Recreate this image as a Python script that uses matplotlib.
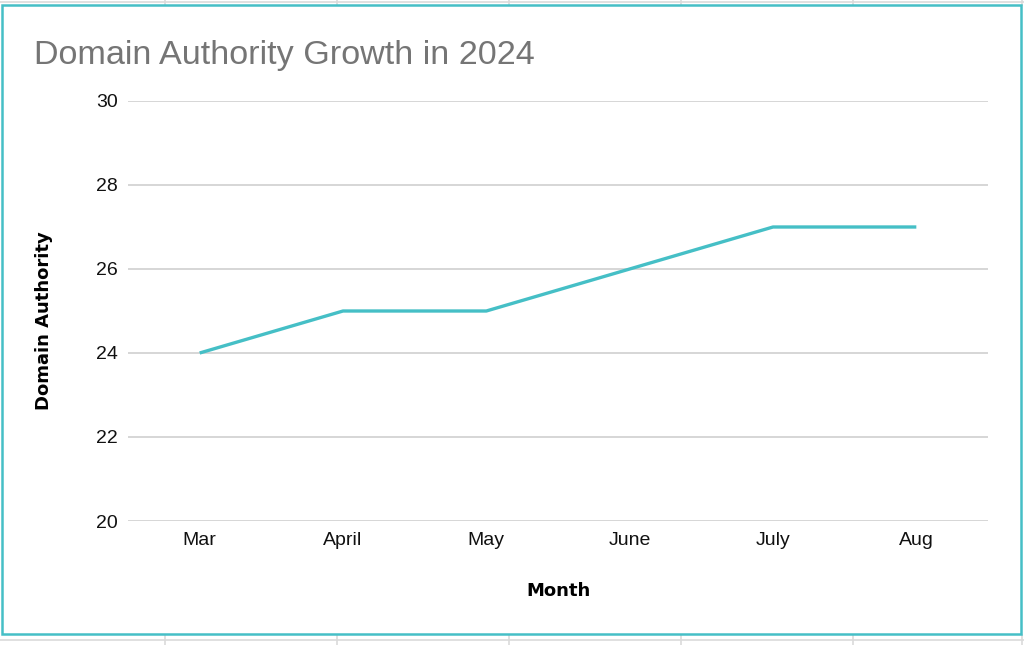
import matplotlib.pyplot as plt
from matplotlib.lines import Line2D
from matplotlib.patches import Rectangle

plt.rcParams['font.family'] = ['Liberation Sans', 'DejaVu Sans']

months = ['Mar', 'April', 'May', 'June', 'July', 'Aug']
domain_authority = [24, 25, 25, 26, 27, 27]
y_ticks = [20, 22, 24, 26, 28, 30]

W, H = 1024, 645
LINE_COLOR = '#45bfc6'

fig = plt.figure(figsize=(W / 100, H / 100), dpi=100)
fig.patch.set_facecolor('white')

# spreadsheet grid showing around the chart
sheet = '#dadada'
for yy in [2, 640]:
    fig.add_artist(Line2D([0, 1], [1 - yy / H, 1 - yy / H], color=sheet, lw=1.2,
                          transform=fig.transFigure, zorder=0))
for xx in [165, 337, 509, 681, 853, 1022]:
    fig.add_artist(Line2D([xx / W, xx / W], [1, 1 - 5 / H], color=sheet, lw=1.2,
                          transform=fig.transFigure, zorder=0))
    fig.add_artist(Line2D([xx / W, xx / W], [1 - 635 / H, 0], color=sheet, lw=1.2,
                          transform=fig.transFigure, zorder=0))

# chart border
fig.add_artist(Rectangle((1.5 / W, 1 - 634 / H), 1019 / W, 629.5 / H,
                         transform=fig.transFigure, fill=True, fc='white',
                         ec=LINE_COLOR, lw=1.8, zorder=1))

ax = fig.add_axes([128 / W, 1 - 521 / H, 860 / W, 420 / H])
ax.set_zorder(2)
ax.patch.set_visible(False)

x = list(range(len(months)))
ax.plot(x, domain_authority, color=LINE_COLOR, lw=2.4, solid_capstyle='butt',
        solid_joinstyle='round', zorder=3)

ax.set_xlim(-0.5, len(months) - 0.5)
ax.set_ylim(20, 30)
ax.set_yticks(y_ticks)
ax.set_xticks(x)
ax.set_xticklabels(months)
ax.grid(axis='y', color='#cccccc', lw=1.1)
ax.set_axisbelow(True)
for s in ax.spines.values():
    s.set_visible(False)
ax.tick_params(length=0, labelsize=14, colors='#111111')
ax.tick_params(axis='y', pad=7.5)
ax.tick_params(axis='x', pad=8)

ax.set_xlabel('Month', fontsize=13, fontweight='bold', family=['DejaVu Sans'],
              va='center')
ax.xaxis.set_label_coords(0.501, (521 - 591) / 420)
ax.set_ylabel('Domain Authority', fontsize=13, fontweight='bold',
              family=['DejaVu Sans'], va='center', ha='center')
ax.yaxis.set_label_coords((44 - 128) / 860, (521 - 321) / 420)

# title: fit width to the reference (~501 px)
title = fig.text(34 / W, 1 - 64 / H, 'Domain Authority Growth in 2024',
                 fontsize=24, color='#757575', va='baseline', ha='left',
                 zorder=3)
r = fig.canvas.get_renderer()
tw = title.get_window_extent(r).width
title.set_fontsize(24 * 501 / tw)

fig.savefig('out.png', dpi=100, facecolor='white')
